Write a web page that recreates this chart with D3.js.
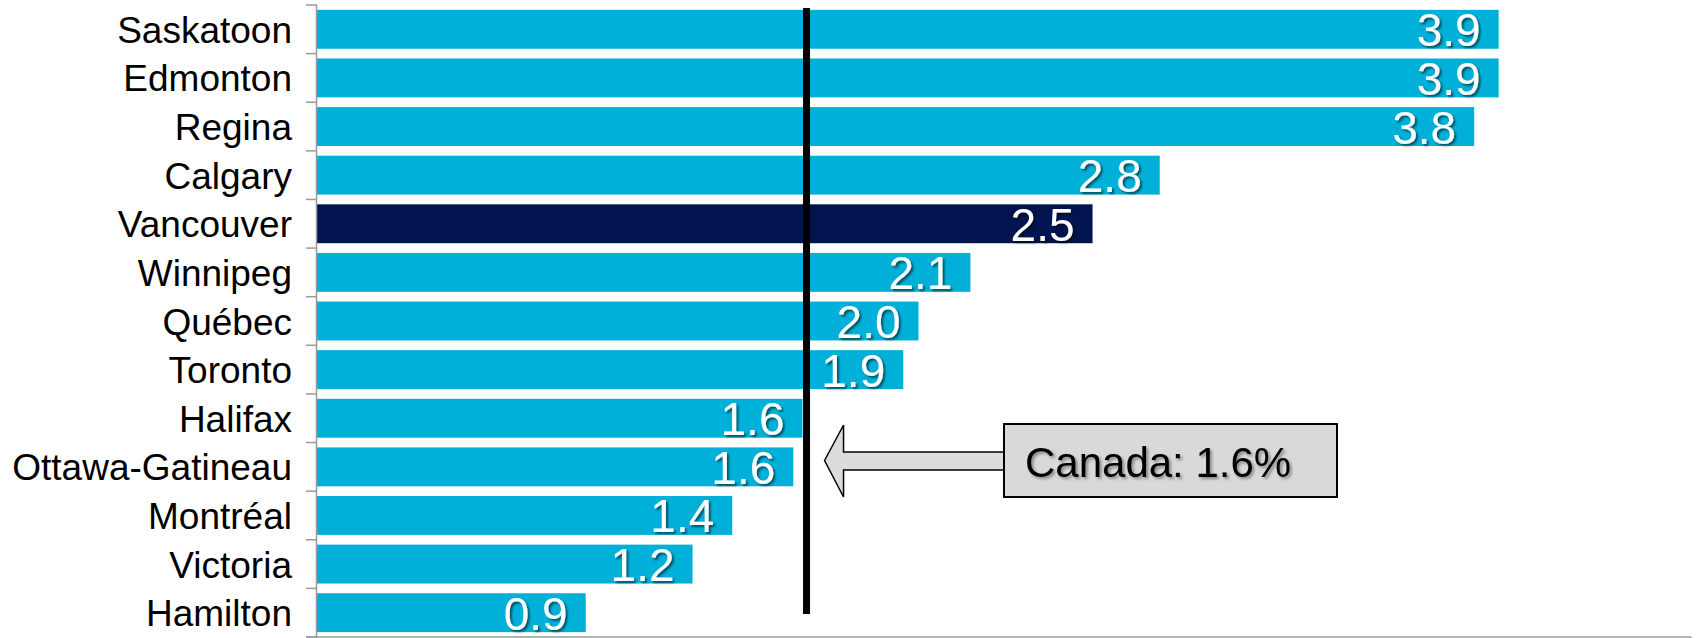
<!DOCTYPE html>
<html>
<head>
<meta charset="utf-8">
<script src="https://cdn.jsdelivr.net/npm/d3@7/dist/d3.min.js"></script>
<style>
  html, body { margin: 0; padding: 0; background: #ffffff; }
  svg { display: block; font-family: "Liberation Sans", Arial, sans-serif; }
</style>
</head>
<body>
<svg id="chart" width="1696" height="638"></svg>
<script>
// ---- data ----
const cities = ["Saskatoon", "Edmonton", "Regina", "Calgary", "Vancouver", "Winnipeg",
  "Québec", "Toronto", "Halifax", "Ottawa-Gatineau", "Montréal", "Victoria", "Hamilton"];
const growth = [3.87, 3.87, 3.79, 2.76, 2.54, 2.14, 1.97, 1.92, 1.59, 1.56, 1.36, 1.23, 0.88];
const highlighted = ["Vancouver"];
const canadaValue = 1.6;
const canadaLabel = "Canada: 1.6%";
const xDomain = [0, 4.5];

// ---- layout ----
const svg = d3.select("#chart");
const W = 1696, H = 638;
const x0 = 317, x1 = 1691, yTop = 5, yBottom = 637;

const x = d3.scaleLinear().domain(xDomain).range([x0, x1]);
const y = d3.scaleBand().domain(cities).range([yTop, yBottom])
  .paddingInner(0.2).paddingOuter(0.1);

const defs = svg.append("defs");
const f1 = defs.append("filter").attr("id", "shadow").attr("x", "-20%").attr("y", "-20%")
  .attr("width", "150%").attr("height", "150%");
f1.append("feDropShadow").attr("dx", 2).attr("dy", 2).attr("stdDeviation", 1.3)
  .attr("flood-color", "#000").attr("flood-opacity", 0.55);
const f2 = defs.append("filter").attr("id", "shadow2").attr("x", "-20%").attr("y", "-20%")
  .attr("width", "150%").attr("height", "150%");
f2.append("feDropShadow").attr("dx", 2).attr("dy", 2).attr("stdDeviation", 1.5)
  .attr("flood-color", "#000").attr("flood-opacity", 0.4);

const data = cities.map((c, i) => ({ city: c, v: growth[i] }));

// bars
svg.append("g").selectAll("rect").data(data).join("rect")
  .attr("x", x(0))
  .attr("y", d => y(d.city))
  .attr("width", d => x(d.v) - x(0))
  .attr("height", y.bandwidth())
  .attr("fill", d => highlighted.includes(d.city) ? "#02144F" : "#00B0D8");

// left axis (ticks at band boundaries)
const axisColor = "#9A9A9A";
const gAxis = svg.append("g");
gAxis.append("line").attr("x1", x0 - 0.5).attr("x2", x0 - 0.5)
  .attr("y1", yTop).attr("y2", yBottom).attr("stroke", axisColor).attr("stroke-width", 1.5);
const bounds = d3.range(cities.length + 1).map(i => yTop + i * y.step());
gAxis.selectAll("line.tick").data(bounds).join("line").attr("class", "tick")
  .attr("x1", x0 - 11).attr("x2", x0).attr("y1", d => d).attr("y2", d => d)
  .attr("stroke", axisColor).attr("stroke-width", 1.5);
// bottom axis
gAxis.append("line").attr("x1", x0 - 11).attr("x2", x1)
  .attr("y1", yBottom).attr("y2", yBottom).attr("stroke", axisColor).attr("stroke-width", 1.5);
gAxis.append("line").attr("x1", x1).attr("x2", x1)
  .attr("y1", yBottom).attr("y2", yBottom + 2).attr("stroke", axisColor).attr("stroke-width", 1.5);

// category labels
svg.append("g").selectAll("text").data(data).join("text")
  .attr("x", x0 - 25)
  .attr("y", d => y(d.city) + y.bandwidth() / 2 + 13.5)
  .attr("text-anchor", "end")
  .attr("font-size", 37)
  .attr("fill", "#000")
  .text(d => d.city);

// value labels
const fmt = d3.format(".1f");
svg.append("g").selectAll("text").data(data).join("text")
  .attr("x", d => x(d.v) - 18)
  .attr("y", d => y(d.city) + y.bandwidth() / 2 + 17)
  .attr("text-anchor", "end")
  .attr("font-size", 46)
  .attr("fill", "#fff")
  .attr("filter", "url(#shadow)")
  .text(d => fmt(d.v));

// Canada reference line
const cx = x(canadaValue);
svg.append("line").attr("x1", cx + 1).attr("x2", cx + 1).attr("y1", 8).attr("y2", 614)
  .attr("stroke", "#000").attr("stroke-width", 7);

// callout arrow + box
const tipX = cx + 19, headX = cx + 38, boxL = 1004, boxR = 1337, boxT = 424, boxB = 497;
const midY = (boxT + boxB) / 2;
const arrow = [[tipX, midY], [headX, boxT + 1], [headX, 452], [boxL, 452], [boxL, 470],
  [headX, 470], [headX, boxB], [tipX, midY]];
svg.append("path")
  .attr("d", d3.line()(arrow) + "Z")
  .attr("fill", "#DCDCDC").attr("stroke", "#000").attr("stroke-width", 1.5)
  .attr("stroke-linejoin", "miter");
svg.append("rect").attr("x", boxL).attr("y", boxT).attr("width", boxR - boxL).attr("height", boxB - boxT)
  .attr("fill", "#D9D9D9").attr("stroke", "#000").attr("stroke-width", 2);
svg.append("text").attr("x", 1025).attr("y", 477)
  .attr("font-size", 42).attr("fill", "#000").attr("filter", "url(#shadow2)")
  .text(canadaLabel);
</script>
</body>
</html>
